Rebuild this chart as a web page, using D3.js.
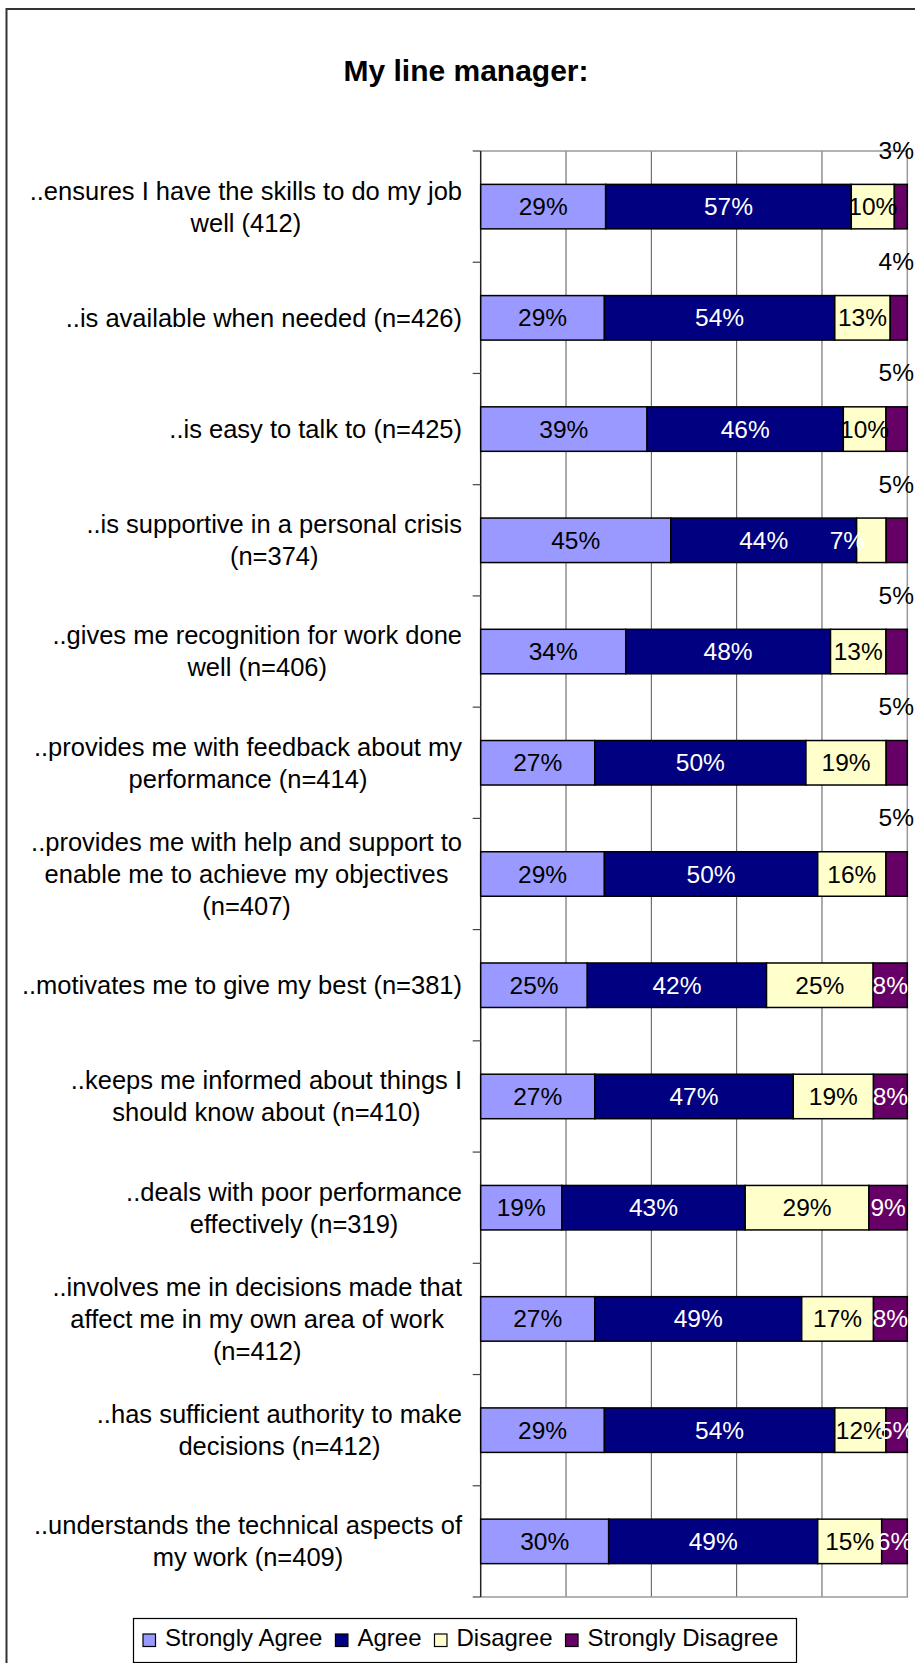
<!DOCTYPE html>
<html>
<head>
<meta charset="utf-8">
<script src="https://cdn.jsdelivr.net/npm/d3@7"></script>
<style>
  html, body { margin: 0; padding: 0; background: #fff; }
  svg { display: block; }
  text { font-family: "Liberation Sans", Arial, sans-serif; }
</style>
</head>
<body>
<svg id="chart" width="915" height="1663"></svg>
<script>
// ---------------- data ----------------
const title = "My line manager:";
const categories = [
  ["..ensures I have the skills to do my job", "well (412)"],
  ["..is available when needed (n=426)"],
  ["..is easy to talk to (n=425)"],
  ["..is supportive in a personal crisis", "(n=374)"],
  ["..gives me recognition for work done", "well (n=406)"],
  ["..provides me with feedback about my", "performance (n=414)"],
  ["..provides me with help and support to", "enable me to achieve my objectives", "(n=407)"],
  ["..motivates me to give my best (n=381)"],
  ["..keeps me informed about things I", "should know about (n=410)"],
  ["..deals with poor performance", "effectively (n=319)"],
  ["..involves me in decisions made that", "affect me in my own area of work", "(n=412)"],
  ["..has sufficient authority to make", "decisions (n=412)"],
  ["..understands the technical aspects of", "my work (n=409)"]
];
const seriesNames = ["Strongly Agree", "Agree", "Disagree", "Strongly Disagree"];
const stronglyAgree    = [29, 29, 39, 45, 34, 27, 29, 25, 27, 19, 27, 29, 30];
const agree            = [57, 54, 46, 44, 48, 50, 50, 42, 47, 43, 49, 54, 49];
const disagree         = [10, 13, 10,  7, 13, 19, 16, 25, 19, 29, 17, 12, 15];
const stronglyDisagree = [ 3,  4,  5,  5,  5,  5,  5,  8,  8,  9,  8,  5,  6];
// strongly-disagree label drawn above the bar (as in the original) for these rows
const sdLabelAbove = [true, true, true, true, true, true, true, false, false, false, false, false, false];
const xTicks = [0, 0.2, 0.4, 0.6, 0.8, 1];

// ---------------- styles ----------------
const colors = ["#9999FF", "#000080", "#FFFFCC", "#660066"];
const labelColors = ["#000", "#fff", "#000", "#fff"];

const svg = d3.select("#chart");

// outer chart border
svg.append("rect")
  .attr("x", 6.5).attr("y", 9).attr("width", 1000).attr("height", 2000)
  .attr("fill", "none").attr("stroke", "#333").attr("stroke-width", 2);

// title
svg.append("text")
  .attr("x", 466).attr("y", 81)
  .attr("text-anchor", "middle")
  .attr("font-size", 30).attr("font-weight", "bold")
  .text(title);

// plot area
const pLeft = 480.7, pRight = 907.3, pTop = 151, pBottom = 1597;
const rows = categories.map((c, i) => ({
  idx: i,
  "Strongly Agree": stronglyAgree[i],
  "Agree": agree[i],
  "Disagree": disagree[i],
  "Strongly Disagree": stronglyDisagree[i]
}));

const y = d3.scaleBand()
  .domain(d3.range(categories.length))
  .range([pTop, pBottom])
  .paddingInner(0.6).paddingOuter(0.3);
const x = d3.scaleLinear().domain([0, 1]).range([pLeft, pRight]);

// gridlines
svg.append("g").selectAll("line")
  .data(xTicks.filter(t => t > 0 && t < 1))
  .join("line")
  .attr("x1", d => x(d)).attr("x2", d => x(d))
  .attr("y1", pTop).attr("y2", pBottom)
  .attr("stroke", "#555").attr("stroke-width", 1);

// plot frame (top, right, bottom)
svg.append("path")
  .attr("d", `M${pLeft},${pTop}H${pRight}V${pBottom}H${pLeft}`)
  .attr("fill", "none").attr("stroke", "#9a9a9a").attr("stroke-width", 1.5);

// category axis with ticks at band boundaries
const step = y.step();
svg.append("line")
  .attr("x1", pLeft).attr("x2", pLeft).attr("y1", pTop).attr("y2", pBottom)
  .attr("stroke", "#222").attr("stroke-width", 1.5);
svg.append("g").selectAll("line")
  .data(d3.range(categories.length + 1))
  .join("line")
  .attr("x1", pLeft - 8).attr("x2", pLeft)
  .attr("y1", d => pTop + d * step).attr("y2", d => pTop + d * step)
  .attr("stroke", "#444").attr("stroke-width", 1.2);

// stacked, normalised (100%) bars
const stack = d3.stack().keys(seriesNames).offset(d3.stackOffsetExpand);
const stacked = stack(rows);

const gBars = svg.append("g");
stacked.forEach((layer, si) => {
  gBars.append("g").selectAll("rect")
    .data(layer)
    .join("rect")
    .attr("x", d => x(d[0]))
    .attr("y", d => y(d.data.idx))
    .attr("width", d => x(d[1]) - x(d[0]))
    .attr("height", y.bandwidth())
    .attr("fill", colors[si])
    .attr("stroke", "#000").attr("stroke-width", 1.5);
});

// data labels
const gLab = svg.append("g").attr("font-size", 24.5);
stacked.forEach((layer, si) => {
  layer.forEach(d => {
    const i = d.data.idx;
    const v = d.data[seriesNames[si]];
    let tx = (x(d[0]) + x(d[1])) / 2, ty = y(i) + y.bandwidth() / 2, anchor = "middle", col = labelColors[si];
    if (si === 3 && sdLabelAbove[i]) {
      tx = 914; ty = y(i) - 34; anchor = "end"; col = "#000";
    }
    if (si === 2 && i === 3) { tx = tx - 24; col = "#fff"; }
    gLab.append("text")
      .attr("x", tx).attr("y", ty)
      .attr("dy", "0.35em")
      .attr("text-anchor", anchor)
      .attr("fill", col)
      .text(v + "%");
  });
});

// category labels (centred block, right edge at ~462)
const lh = 32;
const gCat = svg.append("g").attr("font-size", 25.5).attr("fill", "#000");
categories.forEach((lines, i) => {
  const g = gCat.append("g");
  const cy = y(i) + y.bandwidth() / 2;
  const texts = lines.map((ln, k) => g.append("text")
    .attr("y", cy + (k - (lines.length - 1) / 2) * lh)
    .attr("dy", "0.35em")
    .attr("text-anchor", "middle")
    .text(ln));
  const w = d3.max(texts, t => t.node().getComputedTextLength());
  texts.forEach(t => t.attr("x", 462 - w / 2));
});

// legend
const lg = svg.append("g");
lg.append("rect")
  .attr("x", 133.5).attr("y", 1618.5).attr("width", 663).attr("height", 44)
  .attr("fill", "#fff").attr("stroke", "#000").attr("stroke-width", 1.2);
let lx = 143;
seriesNames.forEach((name, si) => {
  lg.append("rect")
    .attr("x", lx).attr("y", 1634).attr("width", 12.5).attr("height", 12.5)
    .attr("fill", colors[si]).attr("stroke", "#000").attr("stroke-width", 1.2);
  const t = lg.append("text")
    .attr("x", lx + 22).attr("y", 1646)
    .attr("font-size", 24)
    .text(name);
  lx = lx + 22 + t.node().getComputedTextLength() + 13;
});
</script>
</body>
</html>
